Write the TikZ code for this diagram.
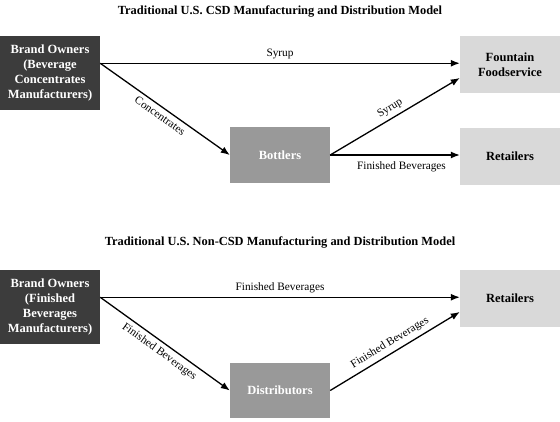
\documentclass[tikz,border=0pt]{standalone}
\usepackage{fontspec}
\setmainfont{Liberation Serif}
\usetikzlibrary{arrows.meta}
\definecolor{darkbox}{HTML}{3C3C3C}
\definecolor{midbox}{HTML}{999999}
\definecolor{lightbox}{HTML}{D9D9D9}
\tikzset{
  boxbase/.style={inner sep=1pt, minimum width=100pt, align=center, font=\fontsize{12.5}{15}\selectfont\bfseries},
  darknode/.style={boxbase, fill=darkbox, text=white, minimum height=74pt},
  midnode/.style={boxbase, fill=midbox, text=white, minimum height=56pt},
  lightnode/.style={boxbase, fill=lightbox, text=black, minimum height=57pt},
  titlenode/.style={font=\fontsize{12.4}{14}\selectfont\bfseries},
  flow/.style={line width=1.3pt, -{Latex[length=9pt,width=7pt]}},
  lbl/.style={font=\fontsize{11.3}{13}\selectfont, inner sep=4pt}
}
\begin{document}
\begin{tikzpicture}[x=1pt,y=-1pt]
\useasboundingbox (0,0) rectangle (560,421);
\node[titlenode] (t1) at (280,12) {Traditional U.S. CSD Manufacturing and Distribution Model};
\node[darknode] (bo1) at (50,73) {Brand Owners\\(Beverage\\Concentrates\\Manufacturers)};
\node[lightnode] (ff) at (510,64.5) {Fountain\\Foodservice};
\node[midnode] (bot) at (280,155) {Bottlers};
\node[lightnode] (ret1) at (510,156.5) {Retailers};
\draw[flow] (bo1.11.3) -- node[lbl, above] {Syrup} (ff.west |- bo1.11.3);
\draw[flow] (bo1.11.3) -- node[lbl, below, sloped] {Concentrates} (bot.west);
\draw[flow] (bot.east) -- node[lbl, above, sloped] {Syrup} (ff.195);
\draw[flow] (bot.east) -- node[lbl, below=2pt, pos=0.55] {Finished Beverages} (ret1.west |- bot.east);

\node[titlenode] (t2) at (280,242) {Traditional U.S. Non-CSD Manufacturing and Distribution Model};
\node[darknode] (bo2) at (50,307) {Brand Owners\\(Finished\\Beverages\\Manufacturers)};
\node[lightnode] (ret2) at (510,298.5) {Retailers};
\node[midnode, minimum height=55pt] (dist) at (280,390.5) {Distributors};
\draw[flow] (bo2.11.3) -- node[lbl, above] {Finished Beverages} (ret2.west |- bo2.11.3);
\draw[flow] (bo2.11.3) -- node[lbl, below, sloped] {Finished Beverages} (dist.west);
\draw[flow] (dist.east) -- node[lbl, above, sloped] {Finished Beverages} (ret2.195);
\end{tikzpicture}
\end{document}
